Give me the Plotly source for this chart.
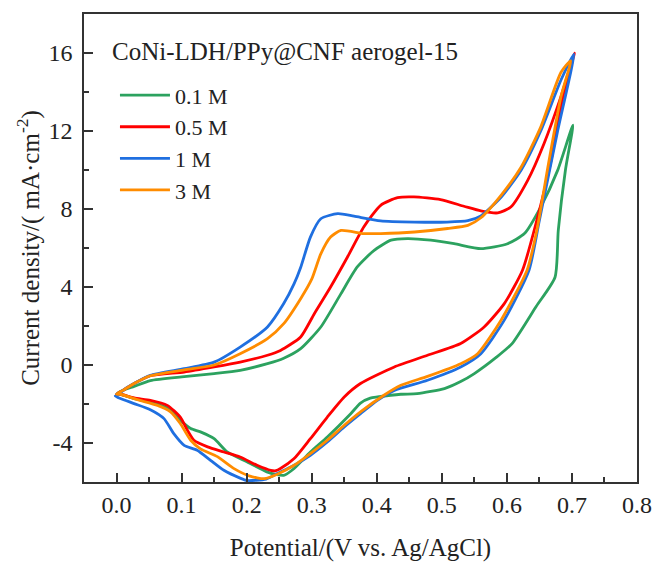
import plotly.graph_objects as go

# ---- data ----
series_names = ["0.1 M", "0.5 M", "1 M", "3 M"]
series_colors = ["#2ca25f", "#ff0000", "#1f6fe0", "#ff8c00"]

v_01 = [0.0, 0.01, 0.027, 0.052, 0.104, 0.15, 0.19, 0.232, 0.257, 0.283, 0.314, 0.345, 0.37, 0.396, 0.422, 0.447,
        0.483, 0.519, 0.56, 0.601, 0.627, 0.652, 0.678, 0.7015,
        0.69, 0.679, 0.674, 0.645, 0.608, 0.584, 0.55, 0.529, 0.504, 0.462, 0.437, 0.401, 0.39, 0.375, 0.36,
        0.324, 0.298, 0.273, 0.257, 0.232, 0.201, 0.17, 0.15, 0.129, 0.114, 0.098, 0.078, 0.052, 0.027, 0.006, 0.0]
j_01 = [-1.5, -1.3, -1.1, -0.8, -0.6, -0.44, -0.27, 0.07, 0.35, 0.84, 1.95, 3.66, 5.03, 5.88, 6.4, 6.48,
        6.4, 6.22, 5.97, 6.22, 6.74, 8.1, 9.98, 12.3,
        10.0, 6.9, 4.5, 3.0, 1.1, 0.4, -0.44, -0.85, -1.21, -1.47, -1.5, -1.64, -1.7, -1.95, -2.5,
        -3.69, -4.46, -5.31, -5.66, -5.49, -4.97, -4.46, -3.78, -3.43, -3.26, -2.84, -2.2, -1.9, -1.72, -1.5, -1.5]

v_05 = [0.0, 0.01, 0.027, 0.052, 0.104, 0.15, 0.19, 0.232, 0.252, 0.283, 0.304, 0.329, 0.355, 0.38, 0.406, 0.432,
        0.457, 0.498, 0.534, 0.56, 0.586, 0.606, 0.632, 0.657, 0.683, 0.704,
        0.686, 0.667, 0.646, 0.624, 0.596, 0.565, 0.529, 0.478, 0.427, 0.375, 0.35, 0.324, 0.298, 0.273, 0.252,
        0.245, 0.237, 0.216, 0.19, 0.165, 0.14, 0.119, 0.109, 0.098, 0.078, 0.052, 0.027, 0.006, 0.0]
j_05 = [-1.5, -1.3, -0.95, -0.55, -0.36, -0.1, 0.15, 0.5, 0.75, 1.44, 2.63, 4.0, 5.54, 7.08, 8.19, 8.58,
        8.62, 8.48, 8.14, 7.9, 7.8, 8.1, 9.47, 11.35, 13.75, 16.0,
        13.74, 10.33, 7.42, 4.86, 3.15, 1.95, 1.1, 0.5, -0.1, -0.95, -1.64, -2.67, -3.78, -4.8, -5.31,
        -5.42, -5.4, -5.14, -4.72, -4.46, -4.2, -3.86, -3.35, -2.67, -2.07, -1.81, -1.69, -1.5, -1.5]

v_1 = [0.0, 0.01, 0.027, 0.052, 0.104, 0.15, 0.19, 0.232, 0.257, 0.273, 0.283, 0.298, 0.314, 0.34, 0.365, 0.406,
       0.458, 0.508, 0.54, 0.56, 0.591, 0.622, 0.652, 0.683, 0.703,
       0.678, 0.65, 0.634, 0.596, 0.56, 0.529, 0.478, 0.427, 0.401, 0.375, 0.35, 0.324, 0.298, 0.273, 0.247,
       0.23, 0.2, 0.19, 0.165, 0.145, 0.124, 0.104, 0.088, 0.073, 0.052, 0.027, 0.006, -0.002, 0.0]
j_1 = [-1.6, -1.3, -0.95, -0.53, -0.19, 0.15, 0.92, 1.95, 3.15, 4.17, 5.0, 6.56, 7.5, 7.76, 7.63, 7.39,
       7.33, 7.33, 7.4, 7.65, 8.6, 10.0, 12.0, 14.6, 15.95,
       12.0, 7.42, 4.86, 2.3, 0.58, -0.1, -0.78, -1.3, -1.81, -2.5, -3.18, -3.95, -4.63, -5.14, -5.57,
       -5.85, -5.92, -5.8, -5.4, -4.9, -4.37, -4.12, -3.52, -2.75, -2.29, -1.98, -1.72, -1.6, -1.6]

v_3 = [0.0, 0.01, 0.027, 0.052, 0.104, 0.15, 0.19, 0.232, 0.257, 0.283, 0.3, 0.314, 0.329, 0.345, 0.38, 0.406,
       0.458, 0.509, 0.54, 0.56, 0.591, 0.622, 0.652, 0.683, 0.698,
       0.683, 0.664, 0.646, 0.631, 0.591, 0.555, 0.529, 0.478, 0.437, 0.411, 0.375, 0.35, 0.324, 0.298, 0.273,
       0.247, 0.227, 0.205, 0.18, 0.155, 0.129, 0.114, 0.098, 0.083, 0.063, 0.032, 0.006, 0.0]
j_3 = [-1.5, -1.3, -0.95, -0.55, -0.25, 0.0, 0.58, 1.35, 2.12, 3.4, 4.4, 5.7, 6.56, 6.9, 6.74, 6.74,
       6.82, 7.0, 7.16, 7.55, 8.7, 10.15, 12.2, 15.0, 15.6,
       13.74, 10.33, 6.9, 4.86, 2.3, 0.58, 0.07, -0.58, -1.04, -1.55, -2.4, -3.09, -3.86, -4.54, -5.14,
       -5.6, -5.83, -5.7, -5.3, -4.7, -4.3, -3.86, -3.0, -2.4, -2.07, -1.78, -1.5, -1.5]

x_tickvals = [0.0, 0.1, 0.2, 0.3, 0.4, 0.5, 0.6, 0.7, 0.8]
x_ticktext = ["0.0", "0.1", "0.2", "0.3", "0.4", "0.5", "0.6", "0.7", "0.8"]
y_tickvals = [-4, 0, 4, 8, 12, 16]
y_ticktext = ["-4", "0", "4", "8", "12", "16"]

xs = [v_01, v_05, v_1, v_3]
ys = [j_01, j_05, j_1, j_3]

FONT = "Liberation Serif, Times New Roman, serif"

fig = go.Figure()
for i, (name, color) in enumerate(zip(series_names, series_colors)):
    fig.add_trace(go.Scatter(
        x=xs[i], y=ys[i], mode="lines", name=name,
        line=dict(color=color, width=2.8, shape="spline", smoothing=0.6),
    ))

axis_common = dict(
    showline=True, linecolor="#333333", linewidth=1.6, mirror=True,
    ticks="inside", ticklen=9, tickwidth=1.5, tickcolor="#333333",
    showgrid=False, zeroline=False, automargin=False,
    tickfont=dict(family=FONT, size=24, color="#222222"),
)

fig.update_layout(
    width=654, height=562,
    margin=dict(l=84, r=17, t=14, b=80),
    paper_bgcolor="white", plot_bgcolor="white",
    font=dict(family=FONT, color="#222222"),
    xaxis=dict(
        range=[-0.05, 0.8], tickvals=x_tickvals, ticktext=x_ticktext,
        minor=dict(ticks="inside", ticklen=5, tickwidth=1.5, tickcolor="#333333", dtick=0.05, tick0=0.05),
        title=dict(text="Potential/(V vs. Ag/AgCl)", font=dict(family=FONT, size=25, color="#222222"), standoff=22),
        ticklabelstandoff=0,
        **axis_common,
    ),
    yaxis=dict(
        range=[-6, 18], tickvals=y_tickvals, ticktext=y_ticktext,
        minor=dict(ticks="inside", ticklen=5, tickwidth=1.5, tickcolor="#333333", dtick=2, tick0=-6),
        title=dict(text="Current density/( mA·cm<sup>-2</sup>)", font=dict(family=FONT, size=25, color="#222222"), standoff=2),
        ticklabelstandoff=5,
        **axis_common,
    ),
    legend=dict(
        x=0.056, y=0.871, xanchor="left", yanchor="top",
        bgcolor="rgba(0,0,0,0)", borderwidth=0,
        font=dict(family=FONT, size=22, color="#222222"),
        itemwidth=50,
    ),
    showlegend=True,
    annotations=[dict(
        text="CoNi-LDH/PPy@CNF aerogel-15", xref="paper", yref="paper",
        x=0.047, y=0.919, xanchor="left", yanchor="middle", showarrow=False,
        font=dict(family=FONT, size=25, color="#222222"),
    )],
)

fig.write_html("out.html")
